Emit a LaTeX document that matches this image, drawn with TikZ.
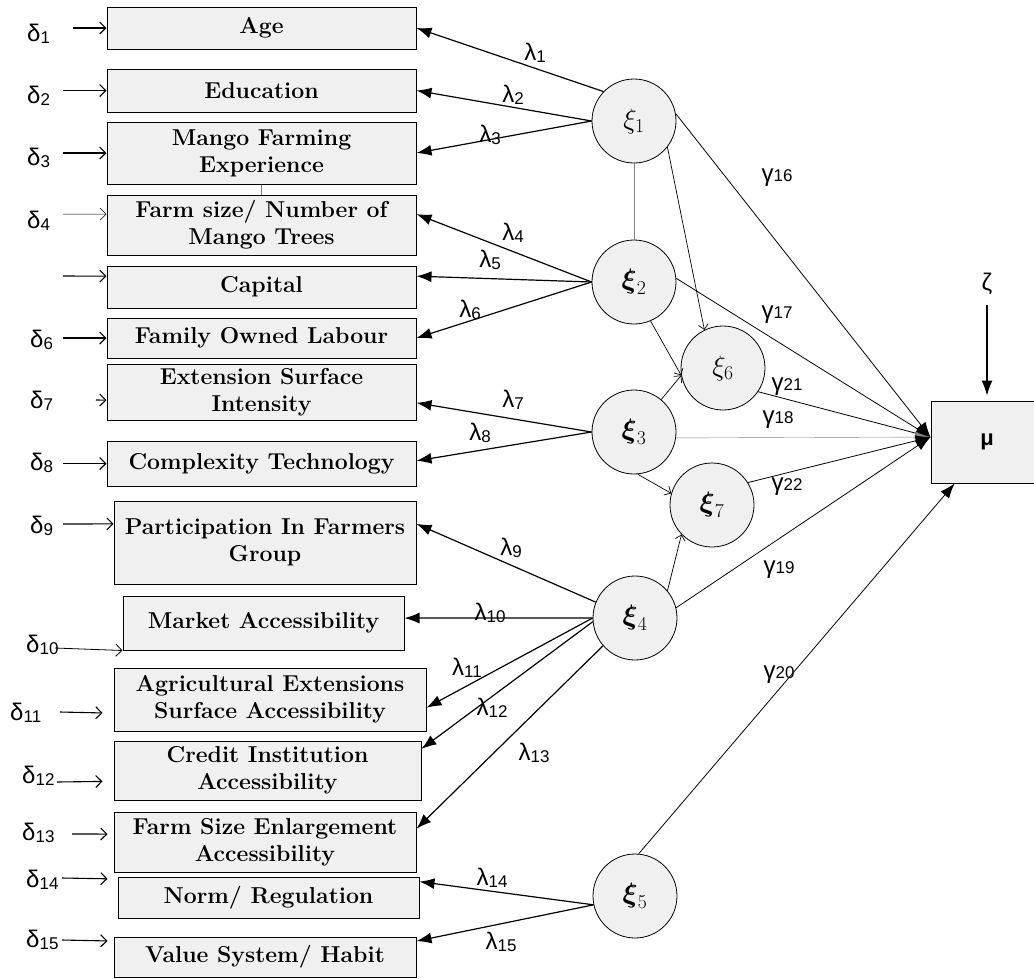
\RequirePackage{fix-cm}
\documentclass[tikz,border=0pt]{standalone}
\usepackage{amsmath}
\usepackage{fontspec}
\usepackage{tikz}
\usetikzlibrary{arrows.meta}
\newfontfamily\grk{Liberation Sans}
\definecolor{boxgray}{RGB}{240,240,240}
\newcommand{\sub}[2]{#1\raisebox{-2pt}{\fontsize{17}{17}\selectfont #2}}
\newcommand{\gsub}[2]{#1{\fontsize{17}{17}\selectfont #2}}
\tikzset{
  varbox/.style={draw, line width=1pt, fill=boxgray, align=center, inner sep=0pt, font=\fontsize{23}{27}\selectfont\bfseries},
  latent/.style={circle, draw, line width=0.8pt, fill=boxgray, minimum size=84pt, inner sep=0pt, font=\fontsize{28}{28}\selectfont},
  sym/.style={inner sep=0pt, font=\grk\fontsize{24}{26}\selectfont},
  loadarrow/.style={line width=1.2pt, -{Latex[length=15pt,width=11pt]}},
  gammaarrow/.style={line width=0.8pt, -{Latex[length=15pt,width=11pt]}},
  linkarrow/.style={line width=0.7pt, -{Straight Barb[length=5pt,width=10pt]}},
  errarrow/.style={line width=1.1pt, -{Straight Barb[length=6pt,width=12pt]}},
}

\begin{document}
\begin{tikzpicture}[x=1pt,y=1pt,yscale=-1,xscale=1]
\useasboundingbox (0,0) rectangle (1034,978);

%Shape: Rectangle
\node [varbox, minimum width=309pt, minimum height=42pt] (age) at (261.5,28) {Age};
\node [varbox, minimum width=309pt, minimum height=43pt] (edu) at (261.5,90.5) {Education};
\node [varbox, minimum width=309pt, minimum height=62pt] (exp) at (261.5,153) {Mango Farming\\Experience};
\node [varbox, minimum width=309pt, minimum height=60pt] (trees) at (261.5,225) {Farm size/ Number of\\Mango Trees};
\node [varbox, minimum width=309pt, minimum height=42pt] (capital) at (261.5,287) {Capital};
\node [varbox, minimum width=309pt, minimum height=40pt] (labour) at (261.5,338) {Family Owned Labour};
\node [varbox, minimum width=309pt, minimum height=56pt] (ext) at (261.5,392) {Extension Surface\\Intensity};
\node [varbox, minimum width=309pt, minimum height=45pt] (tech) at (261.5,463.5) {Complexity Technology};
\node [varbox, minimum width=302pt, minimum height=83pt] (group) at (265,542.5) {Participation In Farmers\\Group};
\node [varbox, minimum width=281pt, minimum height=54pt] (market) at (263.5,623) {Market Accessibility};
\node [varbox, minimum width=312pt, minimum height=63pt] (agri) at (270,699.5) {Agricultural Extensions\\Surface Accessibility};
\node [varbox, minimum width=307pt, minimum height=59pt] (credit) at (267.5,770.5) {Credit Institution\\Accessibility};
\node [varbox, minimum width=302pt, minimum height=60pt] (enlarge) at (265,842) {Farm Size Enlargement\\Accessibility};
\node [varbox, minimum width=301pt, minimum height=41pt] (norm) at (268.5,897.5) {Norm/ Regulation};
\node [varbox, minimum width=302pt, minimum height=40pt] (habit) at (265,957) {Value System/ Habit};
\node [draw, line width=1pt, fill=boxgray, minimum width=112pt, minimum height=82pt, font=\grk\bfseries\fontsize{22}{22}\selectfont] (mu) at (987,442) {μ};

%Shape: Circle
\node [latent] (xi1) at (634,121) {$\xi_{1}$};
\node [latent] (xi2) at (634,282) {$\boldsymbol{\xi}_{2}$};
\node [latent] (xi3) at (634,432) {$\boldsymbol{\xi}_{3}$};
\node [latent] (xi4) at (635,618) {$\boldsymbol{\xi}_{4}$};
\node [latent] (xi5) at (635,896) {$\boldsymbol{\xi}_{5}$};
\node [latent] (xi6) at (723,368) {$\xi_{6}$};
\node [latent] (xi7) at (712,505) {$\boldsymbol{\xi}_{7}$};

% Text Node
\node [sym, anchor=base west] (d1) at (27,41) {\sub{δ}{1}};
\node [sym, anchor=base west] (d2) at (27,103) {\sub{δ}{2}};
\node [sym, anchor=base west] (d3) at (27,165) {\sub{δ}{3}};
\node [sym, anchor=base west] (d4) at (27,228) {\sub{δ}{4}};
\node [sym, anchor=base west] (d6) at (30,347) {\sub{δ}{6}};
\node [sym, anchor=base west] (d7) at (30,408) {\sub{δ}{7}};
\node [sym, anchor=base west] (d8) at (30,470) {\sub{δ}{8}};
\node [sym, anchor=base west] (d9) at (30,533) {\sub{δ}{9}};
\node [sym, anchor=base west] (d10) at (26,652) {\sub{δ}{10}};
\node [sym, anchor=base west] (d11) at (10,720) {\sub{δ}{11}};
\node [sym, anchor=base west] (d12) at (22,783) {\sub{δ}{12}};
\node [sym, anchor=base west] (d13) at (22,840) {\sub{δ}{13}};
\node [sym, anchor=base west] (d14) at (26,887) {\sub{δ}{14}};
\node [sym, anchor=base west] (d15) at (26,947) {\sub{δ}{15}};
\node [sym] (zeta) at (987,284) {ζ};

% Text Node
\node [sym] (l1) at (535,53) {\sub{λ}{1}};
\node [sym] (l2) at (513,95) {\sub{λ}{2}};
\node [sym] (l3) at (490,135) {\sub{λ}{3}};
\node [sym] (l4) at (513,233) {\sub{λ}{4}};
\node [sym] (l5) at (490,260) {\sub{λ}{5}};
\node [sym] (l6) at (470,310) {\sub{λ}{6}};
\node [sym] (l7) at (513,400) {\sub{λ}{7}};
\node [sym] (l8) at (480,433) {\sub{λ}{8}};
\node [sym] (l9) at (511,548) {\sub{λ}{9}};
\node [sym] (l10) at (490,613) {\sub{λ}{10}};
\node [sym] (l11) at (467,668) {\sub{λ}{11}};
\node [sym] (l12) at (492,708) {\sub{λ}{12}};
\node [sym] (l13) at (534,753) {\sub{λ}{13}};
\node [sym] (l14) at (492,878) {\sub{λ}{14}};
\node [sym] (l15) at (501,942) {\sub{λ}{15}};

% Text Node
\node [sym] (g16) at (777,178) {\gsub{γ}{16}};
\node [sym] (g17) at (777,315) {\gsub{γ}{17}};
\node [sym] (g21) at (787,387) {\gsub{γ}{21}};
\node [sym] (g18) at (778,420) {\gsub{γ}{18}};
\node [sym] (g22) at (787,487) {\gsub{γ}{22}};
\node [sym] (g19) at (779,570) {\gsub{γ}{19}};
\node [sym] (g20) at (779,675) {\gsub{γ}{20}};

%Straight Lines
\coordinate (e1) at (73,28);
\coordinate (e2) at (63,90.5);
\coordinate (e3) at (63,153);
\coordinate (e4) at (63,214);
\coordinate (e5) at (63,276);
\coordinate (e6) at (63,338);
\coordinate (e7) at (96,400);
\coordinate (e8) at (63,463.5);
\coordinate (e9) at (63,524);
\coordinate (e10) at (55,648);
\coordinate (e11) at (60,712);
\coordinate (e12) at (57,782);
\coordinate (e13) at (72,834);
\coordinate (e14) at (62,878);
\coordinate (e15) at (62,940);
\draw [errarrow] (e1) -- (age.west);
\draw [errarrow] (e2) -- (edu.west);
\draw [errarrow] (e3) -- (exp.west);
\draw [errarrow, line width=0.5pt] (e4) -- (trees.176);
\draw [errarrow] (e5) -- (capital.176);
\draw [errarrow] (e6) -- (labour.west);
\draw [errarrow] (e7) -- (ext.183);
\draw [errarrow] (e8) -- (tech.west);
\draw [errarrow] (e9) -- (group.173);
\draw [errarrow, line width=0.8pt] (e10) -- (market.south west);
\draw [errarrow, shorten >=11pt] (e11) -- (agri.185);
\draw [errarrow, shorten >=11pt] (e12) -- (credit.184);
\draw [errarrow, shorten >=6pt] (e13) -- (enlarge.177);
\draw [errarrow, shorten >=10pt] (e14) -- (norm.173);
\draw [errarrow, shorten >=6pt] (e15) -- (habit.174);
\draw [gammaarrow, line width=1.1pt, shorten <=10pt, shorten >=5pt] (zeta.south) -- (mu.north);

%Straight Lines
\draw [loadarrow] (xi1.136) -- (age.east);
\draw [loadarrow] (xi1.west) -- (edu.east);
\draw [loadarrow] (xi1.west) -- (exp.east);
\draw [loadarrow] (xi2.west) -- (trees.4);
\draw [loadarrow] (xi2.west) -- (capital.4);
\draw [loadarrow] (xi2.west) -- (labour.east);
\draw [loadarrow] (xi3.west) -- (ext.-4);
\draw [loadarrow] (xi3.west) -- (tech.1);
\draw [loadarrow] (xi4.158) -- (group.7);
\draw [loadarrow] (xi4.west) -- (market.2);
\draw [loadarrow] (xi4.west) -- (agri.-3);
\draw [loadarrow] (xi4.185) -- (credit.8);
\draw [loadarrow] (xi4.221) -- (enlarge.5);
\draw [loadarrow] (xi5.192) -- (norm.6);
\draw [loadarrow] (xi5.192) -- (habit.6);

%Straight Lines
\draw [gray, line width=0.4pt] (exp.south) -- (trees.north);
\draw [gray, line width=0.4pt] (xi1.south) -- (xi2.north);
\draw [linkarrow] (xi1.-38) -- (xi6.116);
\draw [linkarrow] (xi2.-67) -- (xi6.190);
\draw [linkarrow] (xi3.50) -- (xi6.190);
\draw [linkarrow] (xi3.-85) -- (xi7.164);
\draw [linkarrow] (xi4.40) -- (xi7.224);

%Straight Lines
\draw [gammaarrow] (xi1.10) -- (mu.175);
\draw [gammaarrow] (xi2.5) -- (mu.175);
\draw [gammaarrow] (xi6.-34) -- (mu.175);
\draw [gammaarrow, draw=gray, line width=0.4pt] (xi3.-8) -- (mu.175);
\draw [gammaarrow] (xi7.32) -- (mu.175);
\draw [gammaarrow] (xi4.14) -- (mu.175);
\draw [gammaarrow] (xi5.85) -- (mu.232);

\end{tikzpicture}
\end{document}
